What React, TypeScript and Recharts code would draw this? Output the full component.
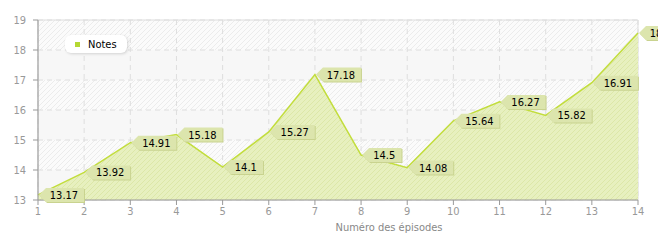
import React from "react"
import {
  Area,
  AreaChart,
  CartesianGrid,
  LabelList,
  ReferenceArea,
  XAxis,
  YAxis,
} from "recharts"

const episodes = [1, 2, 3, 4, 5, 6, 7, 8, 9, 10, 11, 12, 13, 14]
const notes = [13.17, 13.92, 14.91, 15.18, 14.1, 15.27, 17.18, 14.5, 14.08, 15.64, 16.27, 15.82, 16.91, 18.57]
const yTicks = [13, 14, 15, 16, 17, 18, 19]

const data = episodes.map((ep, i) => ({ ep, note: notes[i] }))

const FONT = "Tahoma, 'DejaVu Sans Condensed', 'Liberation Sans', sans-serif"

// étiquette en forme de fanion qui pointe vers le point
function PointLabel(props: any) {
  const { x, y, value } = props
  if (x == null || y == null) return null
  const txt = String(value)
  const w = txt.length * 5.6 + 10
  const bx = x + 8
  const top = y - 7
  const bot = y + 7
  const pts = `${x + 1},${y} ${bx},${top} ${bx + w},${top} ${bx + w},${bot} ${bx},${bot}`
  return (
    <g>
      <polygon points={pts} fill="#c9d38f" transform="translate(1,1)" />
      <polygon points={pts} fill="#dce5ad" />
      <text
        x={bx + w / 2 - 1}
        y={y + 4}
        textAnchor="middle"
        fontSize={11}
        fontFamily={FONT}
        fill="#000"
      >
        {txt}
      </text>
    </g>
  )
}

function NotesLegend() {
  return (
    <div
      style={{
        position: "absolute",
        left: 65,
        top: 35,
        background: "#fff",
        borderRadius: 6,
        boxShadow: "1px 1px 3px rgba(0,0,0,0.15)",
        padding: "2px 10px",
        display: "flex",
        alignItems: "center",
        fontFamily: FONT,
        fontSize: 11,
        color: "#000",
        height: 14,
      }}
    >
      <span style={{ width: 5, height: 5, background: "#b5d833", marginRight: 8, display: "inline-block" }} />
      Notes
    </div>
  )
}

export default function App() {
  return (
    <div style={{ position: "absolute", left: 0, top: 0, width: 658, height: 240, background: "#fff" }}>
      <AreaChart
        width={658}
        height={240}
        data={data}
        margin={{ top: 20, right: 20, left: 0, bottom: 0 }}
      >
        <defs>
          <pattern id="bgHatch" width="5" height="5" patternUnits="userSpaceOnUse">
            <rect width="5" height="5" fill="#fbfbfb" />
            <path d="M-1,1 l2,-2 M0,5 l5,-5 M4,6 l2,-2" stroke="#ececec" strokeWidth={1} />
          </pattern>
          <pattern id="areaHatch" width="5" height="5" patternUnits="userSpaceOnUse">
            <rect width="5" height="5" fill="#e7f0bf" />
            <path d="M-1,1 l2,-2 M0,5 l5,-5 M4,6 l2,-2" stroke="#dce7a8" strokeWidth={1} />
          </pattern>
        </defs>
        <CartesianGrid
          stroke="#dedede"
          strokeDasharray="5 4"
          horizontalFill={["url(#bgHatch)", "#f7f7f7"]}
          fillOpacity={1}
        />
        <XAxis
          dataKey="ep"
          type="number"
          domain={[1, 14]}
          ticks={episodes}
          height={40}
          stroke="#999"
          tickSize={5}
          tick={{ fill: "#999", fontSize: 11, fontFamily: FONT }}
          label={{
            value: "Numéro des épisodes",
            position: "insideBottom",
            offset: 9,
            dx: 51,
            fill: "#888",
            fontSize: 11,
            fontFamily: FONT,
          }}
        />
        <YAxis
          type="number"
          domain={[13, 19]}
          ticks={yTicks}
          width={38}
          stroke="#999"
          tickSize={5}
          tickMargin={7}
          tick={{ fill: "#999", fontSize: 11, fontFamily: FONT }}
        />
        <ReferenceArea x1={1} x2={14} y1={13} y2={19} fill="none" stroke="#dddddd" />
        <Area
          type="linear"
          dataKey="note"
          name="Notes"
          stroke="#c2dd3c"
          strokeWidth={1.5}
          fill="url(#areaHatch)"
          fillOpacity={1}
          baseValue={13}
          dot={false}
          activeDot={false}
          isAnimationActive={false}
        >
          <LabelList dataKey="note" content={<PointLabel />} />
        </Area>
      </AreaChart>
      <NotesLegend />
    </div>
  )
}
